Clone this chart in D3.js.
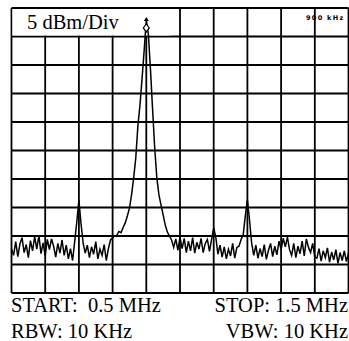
<!DOCTYPE html>
<html>
<head>
<meta charset="utf-8">
<script src="https://cdn.jsdelivr.net/npm/d3@7"></script>
<style>
  html, body { margin: 0; padding: 0; background: #fff; }
  svg { display: block; }
</style>
</head>
<body>
<div id="chart"></div>
<script>
// sweep settings (MHz) and grid ticks
const sweepStartMHz = 0.5;
const sweepStopMHz = 1.5;
const markerMHz = 0.9;
const freqTicks = [0.5, 0.6, 0.7, 0.8, 0.9, 1.0, 1.1, 1.2, 1.3, 1.4, 1.5];
const levelTicks = [0, -5, -10, -15, -20, -25, -30, -35, -40, -45, -50];

// trace levels (dBm), 161 sweep points
const traceDbm = [
  -42.3, -43.4, -41.0, -43.6, -41.4, -40.3, -42.9, -41.5, -43.8, -40.8,
  -42.6, -40.1, -42.3, -39.9, -43.1, -41.2, -43.5, -40.6, -42.4, -40.5,
  -41.8, -43.7, -41.3, -43.0, -40.7, -43.4, -41.6, -44.0, -42.2, -44.3,
  -41.0, -37.5, -33.7, -37.8, -41.2, -43.0, -41.6, -43.8, -41.9, -43.2,
  -41.0, -44.0, -42.3, -43.4, -41.5, -44.3, -42.2, -40.7, -40.3, -40.0,
  -39.9, -39.2, -39.4, -38.5, -37.7, -36.5, -35.1, -32.8, -29.8, -26.3,
  -20.7, -17.0, -12.3, -7.4, -2.1, -4.7, -10.9, -17.9, -24.6, -29.8,
  -32.8, -34.6, -36.3, -38.1, -39.3, -40.0, -40.7,
  -42.0, -40.5, -42.5, -40.2, -42.2, -40.4, -42.9, -40.9, -42.6, -40.3,
  -43.0, -41.1, -42.3, -40.4, -42.9, -41.3, -40.6, -42.7, -40.6, -38.6,
  -40.2, -43.2, -41.6, -43.7, -41.9, -44.0, -42.3, -43.5, -41.3, -43.9,
  -42.0, -41.8, -40.6, -39.8, -36.5, -33.6, -37.2, -41.2, -43.4, -41.6,
  -43.9, -42.2, -43.6, -41.5, -44.1, -42.5, -41.3, -43.6, -41.8, -43.3,
  -40.9, -42.4, -40.4, -41.9, -40.2, -42.4, -43.4, -41.3, -43.8, -41.8,
  -43.1, -40.9, -43.5, -40.5, -42.0, -42.9, -41.3, -43.7, -43.9, -42.2,
  -44.4, -42.6, -43.8, -42.1, -44.6, -42.8, -44.2, -42.4, -44.8, -42.9,
  -44.3, -42.6, -44.5, -43.0
];

const width = 349;
const height = 341;
const plot = { left: 11.5, right: 348.5, top: 8, bottom: 293 };

const svg = d3.select("#chart")
  .append("svg")
  .attr("width", width)
  .attr("height", height);

const x = d3.scaleLinear()
  .domain([sweepStartMHz, sweepStopMHz])
  .range([plot.left, plot.right]);

const y = d3.scaleLinear()
  .domain([-50, 0])
  .range([plot.bottom, plot.top]);

const step = (sweepStopMHz - sweepStartMHz) / (traceDbm.length - 1);
const trace = traceDbm.map((v, i) => ({ f: sweepStartMHz + i * step, v }));

// grid
const grid = svg.append("g").attr("stroke", "#000").attr("stroke-width", 1.8);

grid.selectAll("line.v")
  .data(freqTicks)
  .join("line")
  .attr("class", "v")
  .attr("x1", (d) => x(d))
  .attr("x2", (d) => x(d))
  .attr("y1", y(0))
  .attr("y2", y(-50));

grid.selectAll("line.h")
  .data(levelTicks)
  .join("line")
  .attr("class", "h")
  .attr("x1", x(sweepStartMHz))
  .attr("x2", x(sweepStopMHz))
  .attr("y1", (d) => y(d))
  .attr("y2", (d) => y(d));

// label box over the top-left grid cells
svg.append("rect")
  .attr("x", x(sweepStartMHz) + 1)
  .attr("y", y(0) + 1)
  .attr("width", x(0.97) - x(sweepStartMHz))
  .attr("height", y(-5) - y(0) - 2)
  .attr("fill", "#fff");

svg.append("text")
  .attr("x", 27)
  .attr("y", 29)
  .attr("font-family", "Liberation Serif, Times New Roman, serif")
  .attr("font-size", 20.5)
  .attr("fill", "#000")
  .text("5 dBm/Div");

svg.append("text")
  .attr("x", 306)
  .attr("y", 20)
  .attr("font-family", "DejaVu Sans, sans-serif")
  .attr("font-size", 6.5)
  .attr("font-weight", "bold")
  .attr("letter-spacing", 1.3)
  .attr("fill", "#000")
  .text("900 kHz");

// trace
const line = d3.line()
  .x((d) => x(d.f))
  .y((d) => y(d.v));

svg.append("path")
  .datum(trace)
  .attr("fill", "none")
  .attr("stroke", "#000")
  .attr("stroke-width", 1.5)
  .attr("d", line);

// marker at the peak
const peak = trace.reduce((a, b) => (b.v > a.v ? b : a));
const mx = x(markerMHz);
const my = y(peak.v);
svg.append("path")
  .attr("d", `M${mx},${my - 3}L${mx + 2.5},${my + 1}L${mx - 2.5},${my + 1}Z`)
  .attr("fill", "#000");
svg.append("path")
  .attr("d", `M${mx},${my + 4}L${mx + 3},${my + 8}L${mx},${my + 12}L${mx - 3},${my + 8}Z`)
  .attr("fill", "#fff")
  .attr("stroke", "#000")
  .attr("stroke-width", 1.2);

// settings text under the screen
const bottomText = svg.append("g")
  .attr("font-family", "Liberation Serif, Times New Roman, serif")
  .attr("font-size", 20.5)
  .attr("fill", "#000");

bottomText.append("text").attr("x", 11).attr("y", 312).attr("xml:space", "preserve").text("START:  0.5 MHz");
bottomText.append("text").attr("x", 11).attr("y", 338).text("RBW: 10 KHz");
bottomText.append("text").attr("x", 348).attr("y", 312).attr("text-anchor", "end").text("STOP: 1.5 MHz");
bottomText.append("text").attr("x", 348).attr("y", 338).attr("text-anchor", "end").text("VBW: 10 KHz");
</script>
</body>
</html>
